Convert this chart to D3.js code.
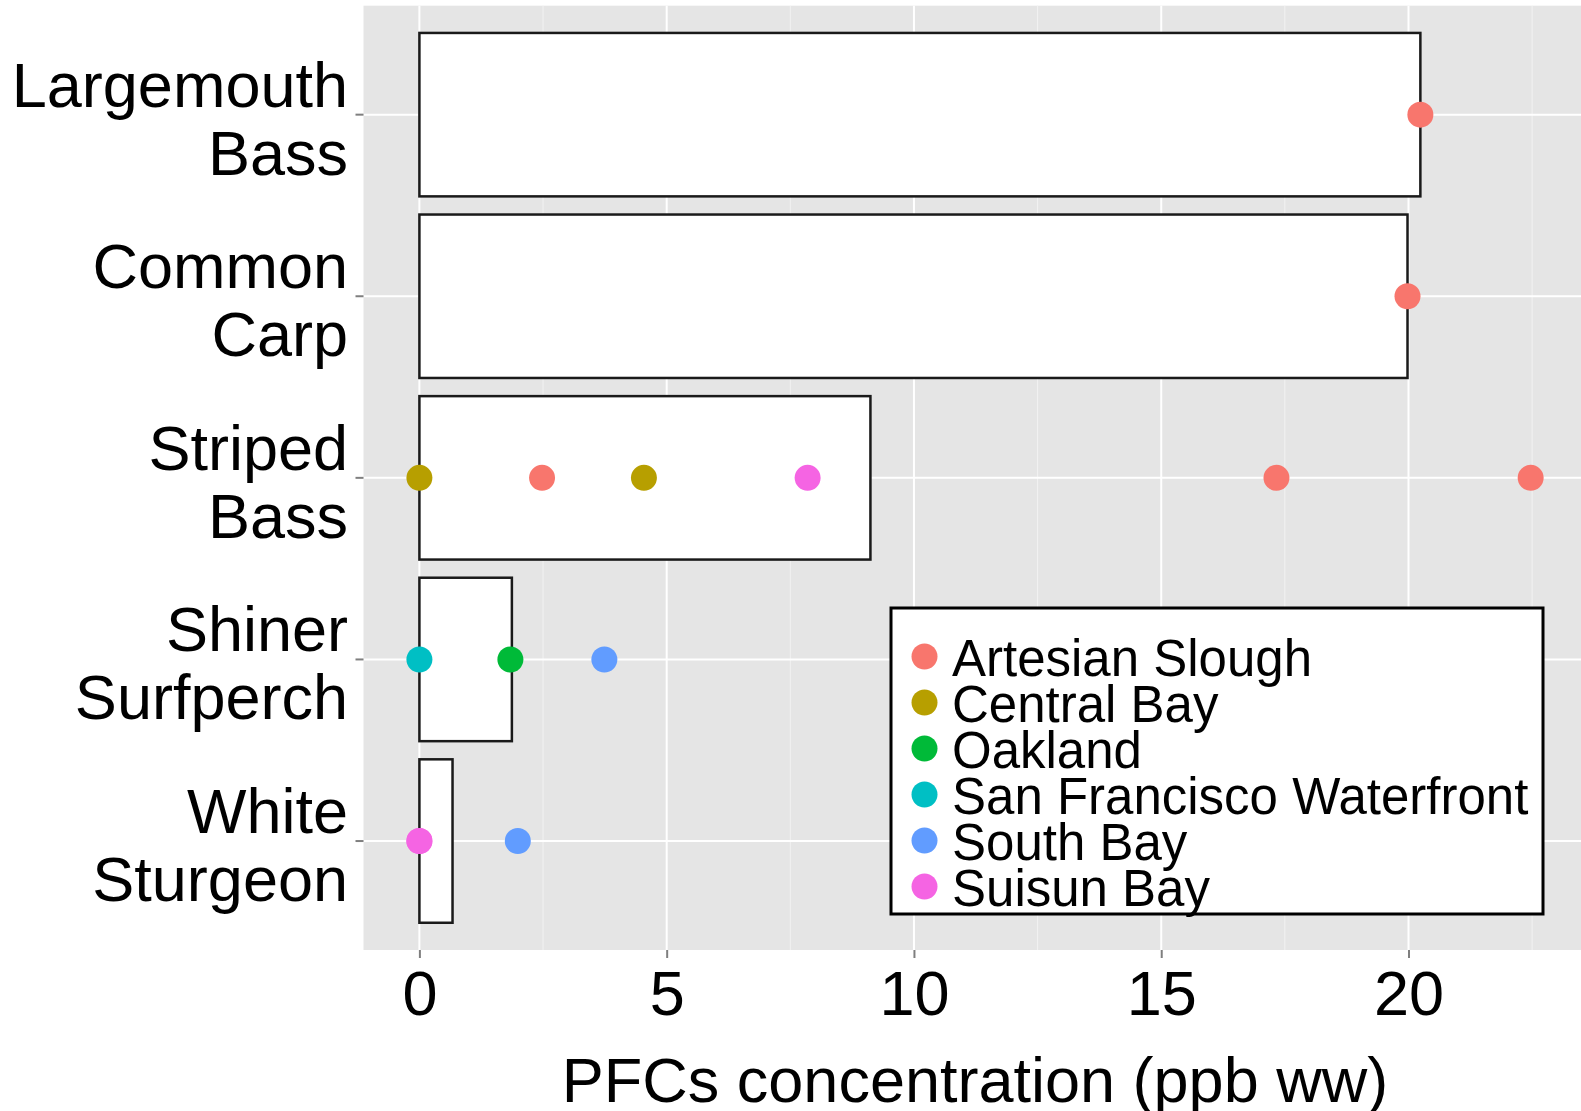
<!DOCTYPE html>
<html>
<head>
<meta charset="utf-8">
<script src="https://cdn.jsdelivr.net/npm/d3@7"></script>
<style>
  body { margin: 0; background: #fff; }
  text { font-family: "Liberation Sans", Arial, sans-serif; fill: #000; }
</style>
</head>
<body>
<div class="chart"></div>
<script>
// categories, top to bottom
var fish = ["Largemouth Bass", "Common Carp", "Striped Bass", "Shiner Surfperch", "White Sturgeon"];
// bar length per fish (mean)
var barValues = [20.24, 19.98, 9.12, 1.87, 0.67];

var sites = ["Artesian Slough", "Central Bay", "Oakland", "San Francisco Waterfront", "South Bay", "Suisun Bay"];
var siteColors = ["#F8766D", "#B79F00", "#00BA38", "#00BFC4", "#619CFF", "#F564E3"];

// individual samples
var pointFish  = ["Largemouth Bass", "Common Carp",
                  "Striped Bass", "Striped Bass", "Striped Bass", "Striped Bass", "Striped Bass", "Striped Bass",
                  "Shiner Surfperch", "Shiner Surfperch", "Shiner Surfperch",
                  "White Sturgeon", "White Sturgeon", "White Sturgeon"];
var pointSite  = ["Artesian Slough", "Artesian Slough",
                  "Central Bay", "Artesian Slough", "Central Bay", "Suisun Bay", "Artesian Slough", "Artesian Slough",
                  "San Francisco Waterfront", "Oakland", "South Bay",
                  "Suisun Bay", "Suisun Bay", "South Bay"];
var pointValue = [20.24, 19.98,
                  0, 2.48, 4.54, 7.85, 17.33, 22.47,
                  0, 1.84, 3.74,
                  0, 0, 1.99];

var xTicks = [0, 5, 10, 15, 20];
var xMinor = [2.5, 7.5, 12.5, 17.5, 22.5];
var xaxistext = "PFCs concentration (ppb ww)";

// setup
var width = 1581, height = 1111;
var panel = {left: 363.5, right: 1581, top: 5.7, bottom: 950};

var svg = d3.select(".chart").append("svg")
    .attr("width", width)
    .attr("height", height);

var x = d3.scaleLinear()
    .domain([0, 20])
    .range([419.4, 1408.5]);

var y = d3.scaleBand()
    .domain(fish)
    .range([panel.top, panel.bottom])
    .paddingInner(0.1)
    .paddingOuter(0.15);

var color = d3.scaleOrdinal().domain(sites).range(siteColors);

// panel background + grid
svg.append("rect")
    .attr("x", panel.left).attr("y", panel.top)
    .attr("width", panel.right - panel.left)
    .attr("height", panel.bottom - panel.top)
    .attr("fill", "#E5E5E5");

svg.selectAll(".minor")
    .data(xMinor)
  .enter().append("line")
    .attr("class", "minor")
    .attr("x1", function(d){ return x(d); })
    .attr("x2", function(d){ return x(d); })
    .attr("y1", panel.top).attr("y2", panel.bottom)
    .attr("stroke", "#F2F2F2")
    .attr("stroke-width", 1);

svg.selectAll(".vmajor")
    .data(xTicks)
  .enter().append("line")
    .attr("class", "vmajor")
    .attr("x1", function(d){ return x(d); })
    .attr("x2", function(d){ return x(d); })
    .attr("y1", panel.top).attr("y2", panel.bottom)
    .attr("stroke", "#fff")
    .attr("stroke-width", 2);

svg.selectAll(".hmajor")
    .data(fish)
  .enter().append("line")
    .attr("class", "hmajor")
    .attr("x1", panel.left).attr("x2", panel.right)
    .attr("y1", function(d){ return y(d) + y.bandwidth() / 2; })
    .attr("y2", function(d){ return y(d) + y.bandwidth() / 2; })
    .attr("stroke", "#fff")
    .attr("stroke-width", 2);

// bars
svg.selectAll(".bar")
    .data(fish)
  .enter().append("rect")
    .attr("class", "bar")
    .attr("x", x(0))
    .attr("y", function(d){ return y(d); })
    .attr("width", function(d, i){ return x(barValues[i]) - x(0); })
    .attr("height", y.bandwidth())
    .attr("fill", "#fff")
    .attr("stroke", "#1a1a1a")
    .attr("stroke-width", 2.5);

// points
svg.selectAll(".point")
    .data(pointValue)
  .enter().append("circle")
    .attr("class", "point")
    .attr("r", 13)
    .attr("cx", function(d){ return x(d); })
    .attr("cy", function(d, i){ return y(pointFish[i]) + y.bandwidth() / 2; })
    .attr("fill", function(d, i){ return color(pointSite[i]); });

// x axis
var xAxis = d3.axisBottom(x)
    .tickValues(xTicks)
    .tickSize(8)
    .tickPadding(12);

var gx = svg.append("g")
    .attr("transform", "translate(0," + panel.bottom + ")")
    .call(xAxis);
gx.select(".domain").remove();
gx.selectAll(".tick line").attr("stroke", "#7F7F7F").attr("stroke-width", 2);
gx.selectAll(".tick text")
    .style("font-family", "'Liberation Sans', Arial, sans-serif")
    .style("font-size", "63px")
    .attr("fill", "#000");

// y axis
var yAxis = d3.axisLeft(y).tickSize(8).tickFormat("");
var gy = svg.append("g")
    .attr("transform", "translate(" + panel.left + ",0)")
    .call(yAxis);
gy.select(".domain").remove();
gy.selectAll(".tick line").attr("stroke", "#7F7F7F").attr("stroke-width", 2);

// two-line category labels
svg.selectAll(".ylab")
    .data(fish)
  .enter().append("text")
    .attr("class", "ylab")
    .attr("text-anchor", "end")
    .style("font-size", "63px")
    .each(function(d){
      var cy = y(d) + y.bandwidth() / 2;
      var words = d.split(" ");
      var t = d3.select(this);
      t.append("tspan").attr("x", 348).attr("y", cy - 8).text(words[0]);
      t.append("tspan").attr("x", 348).attr("y", cy + 60).text(words[1]);
    });

// x axis title
svg.append("text")
    .attr("x", 975)
    .attr("y", 1102)
    .attr("text-anchor", "middle")
    .style("font-size", "63px")
    .text(xaxistext);

// legend
var legend = svg.append("g");
legend.append("rect")
    .attr("x", 891).attr("y", 608)
    .attr("width", 652).attr("height", 306)
    .attr("fill", "#fff")
    .attr("stroke", "#000")
    .attr("stroke-width", 3);

var items = legend.selectAll(".item")
    .data(sites)
  .enter().append("g")
    .attr("class", "item")
    .attr("transform", function(d, i){ return "translate(0," + (656.5 + i * 46) + ")"; });

items.append("circle")
    .attr("cx", 924.5).attr("cy", 0).attr("r", 13)
    .attr("fill", function(d){ return color(d); });

items.append("text")
    .attr("x", 952).attr("y", 19)
    .style("font-size", "51px")
    .text(function(d){ return d; });
</script>
</body>
</html>
